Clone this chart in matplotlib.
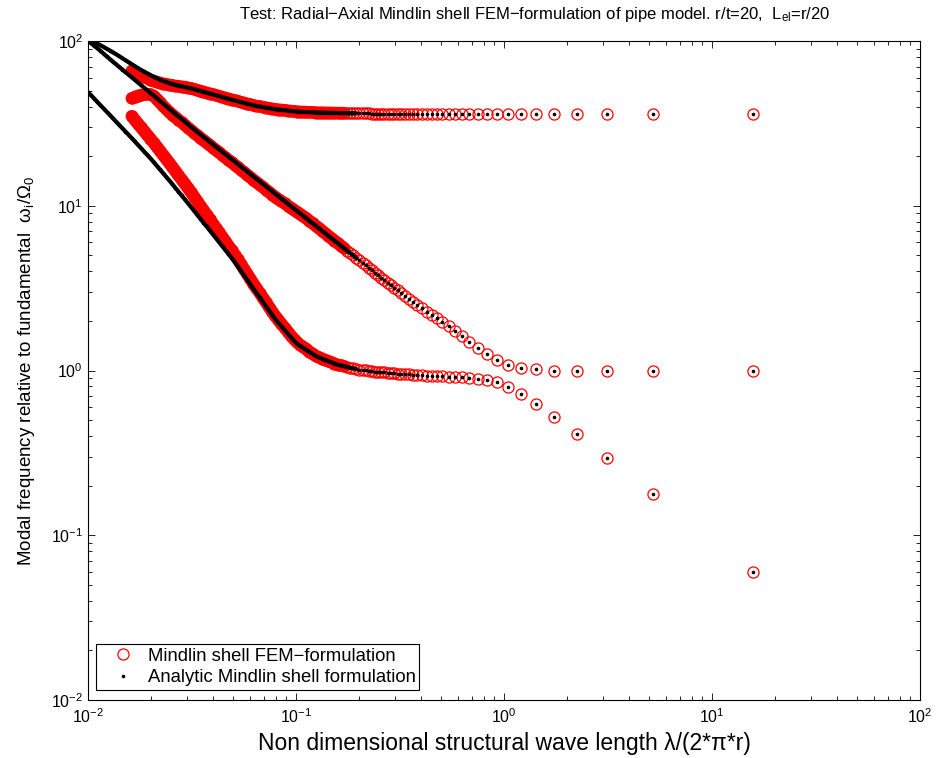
import numpy as np
import matplotlib
matplotlib.use("Agg")
import matplotlib.pyplot as plt

plt.rcParams['font.family'] = ['Liberation Sans', 'DejaVu Sans']
plt.rcParams['mathtext.fontset'] = 'custom'
plt.rcParams['mathtext.rm'] = 'Liberation Sans'
plt.rcParams['mathtext.it'] = 'Liberation Sans:italic'
plt.rcParams['mathtext.bf'] = 'Liberation Sans:bold'

# ---------------- data ----------------
# non-dimensional wave length lambda/(2*pi*r): dense short-wave part + discrete long-wave modes
x_dense = [0.01000, 0.01035, 0.01072, 0.01109, 0.01148, 0.01189, 0.01230, 0.01274, 0.01318, 0.01365,
           0.01413, 0.01462, 0.01514, 0.01567, 0.01622, 0.01679, 0.01738, 0.01799, 0.01862, 0.01928,
           0.01995, 0.02065, 0.02138, 0.02213, 0.02291, 0.02371, 0.02455, 0.02541, 0.02630, 0.02723,
           0.02818, 0.02917, 0.03020, 0.03126, 0.03236, 0.03350, 0.03467, 0.03589, 0.03715, 0.03846,
           0.03981, 0.04121, 0.04266, 0.04416, 0.04571, 0.04732, 0.04898, 0.05070, 0.05248, 0.05433,
           0.05623, 0.05821, 0.06026, 0.06237, 0.06457, 0.06683, 0.06918, 0.07161, 0.07413, 0.07674,
           0.07943, 0.08222, 0.08511, 0.08810, 0.09120, 0.09441, 0.09772, 0.1012, 0.1047, 0.1084,
           0.1122, 0.1161, 0.1202, 0.1245, 0.1288, 0.1334, 0.1380, 0.1429, 0.1479, 0.1531,
           0.1585, 0.1641, 0.1698, 0.1758, 0.1820, 0.1884, 0.1950, 0.2018, 0.2089, 0.2163,
           0.2239, 0.2317, 0.2399, 0.2483, 0.2570, 0.2661, 0.2754, 0.2851, 0.2951]
x_modes = [0.3076, 0.3202, 0.3338, 0.3487, 0.3649, 0.3827, 0.4023, 0.4241, 0.4483, 0.4755,
           0.5061, 0.5410, 0.5811, 0.6276, 0.6822, 0.7471, 0.8258, 0.9229, 1.046, 1.207,
           1.426, 1.743, 2.241, 3.138, 5.230, 15.69]

# analytic branch: bending -> ring (lower)
low_dense = [48.98, 46.77, 44.67, 42.67, 40.75, 38.92, 37.18, 35.51, 33.91, 32.39,
             30.94, 29.55, 28.22, 26.96, 25.73, 24.55, 23.43, 22.35, 21.33, 20.35,
             19.41, 18.45, 17.52, 16.65, 15.82, 15.03, 14.28, 13.56, 12.85, 12.18,
             11.55, 10.95, 10.38, 9.834, 9.316, 8.822, 8.353, 7.909, 7.489, 7.091,
             6.714, 6.356, 6.017, 5.695, 5.390, 5.102, 4.829, 4.560, 4.285, 4.027,
             3.784, 3.556, 3.342, 3.141, 2.953, 2.780, 2.616, 2.461, 2.316, 2.180,
             2.051, 1.950, 1.854, 1.763, 1.676, 1.594, 1.516, 1.452, 1.411, 1.372,
             1.334, 1.296, 1.260, 1.225, 1.200, 1.180, 1.160, 1.140, 1.121, 1.102,
             1.084, 1.073, 1.062, 1.052, 1.041, 1.031, 1.021, 1.012, 1.006, 1.001,
             0.9954, 0.9899, 0.9845, 0.9790, 0.9753, 0.9725, 0.9696, 0.9667, 0.9638]
low_modes = [0.958, 0.955, 0.951, 0.947, 0.943, 0.939, 0.935, 0.931, 0.927, 0.924,
             0.921, 0.918, 0.916, 0.912, 0.904, 0.892, 0.872, 0.848, 0.794, 0.720,
             0.626, 0.520, 0.410, 0.296, 0.178, 0.060]

# analytic branch: axial (diagonal) -> ring
mid_dense = [100.3, 96.86, 93.57, 90.39, 87.08, 83.78, 80.60, 77.61, 74.83, 72.17,
             69.60, 67.12, 64.73, 62.43, 60.20, 58.07, 55.99, 54.00, 52.08, 50.23,
             48.43, 46.69, 45.01, 43.40, 41.83, 40.33, 38.88, 37.48, 36.13, 34.83,
             33.58, 32.38, 31.22, 30.09, 29.05, 28.06, 27.11, 26.19, 25.30, 24.44,
             23.61, 22.81, 22.04, 21.29, 20.56, 19.87, 19.19, 18.54, 17.91, 17.30,
             16.72, 16.15, 15.60, 15.07, 14.56, 14.06, 13.59, 13.13, 12.68, 12.25,
             11.83, 11.43, 11.04, 10.67, 10.31, 9.957, 9.619, 9.292, 8.977, 8.672,
             8.378, 8.094, 7.818, 7.553, 7.297, 7.049, 6.810, 6.578, 6.355, 6.139,
             5.931, 5.730, 5.535, 5.347, 5.166, 4.990, 4.821, 4.657, 4.499, 4.346,
             4.199, 4.056, 3.919, 3.786, 3.657, 3.533, 3.413, 3.297, 3.185]
mid_modes = [3.06, 2.94, 2.83, 2.72, 2.61, 2.50, 2.39, 2.28, 2.18, 2.08,
             1.97, 1.86, 1.74, 1.62, 1.49, 1.36, 1.26, 1.16, 1.085, 1.035,
             1.015, 1.00, 0.99, 0.99, 0.99, 0.99]

# analytic branch: shear (top)
top_dense = [103.0, 100.8, 98.58, 96.43, 94.19, 91.94, 89.74, 87.54, 85.27, 83.07,
             80.91, 78.65, 76.45, 74.31, 72.30, 70.38, 68.51, 66.75, 65.16, 63.60,
             62.09, 60.78, 59.49, 58.23, 57.23, 56.36, 55.52, 54.78, 54.20, 53.65,
             53.09, 52.58, 52.07, 51.57, 50.99, 50.38, 49.77, 49.17, 48.59, 48.00,
             47.42, 46.85, 46.29, 45.74, 45.19, 44.64, 44.11, 43.59, 43.09, 42.61,
             42.12, 41.64, 41.17, 40.71, 40.35, 40.04, 39.73, 39.43, 39.13, 38.84,
             38.55, 38.36, 38.18, 38.00, 37.81, 37.63, 37.45, 37.31, 37.20, 37.12,
             37.05, 36.97, 36.89, 36.81, 36.78, 36.74, 36.70, 36.66, 36.63, 36.59,
             36.56, 36.54, 36.51, 36.49, 36.46, 36.44, 36.41, 36.39, 36.36, 36.34,
             36.31, 36.29, 36.26, 36.24, 36.21, 36.19, 36.16, 36.14, 36.12]
top_modes = [36.0, 36.0, 36.0, 36.0, 36.0, 36.0, 36.0, 36.0, 36.0, 36.0,
             36.0, 36.0, 36.0, 36.0, 36.0, 36.0, 36.0, 36.0, 36.0, 36.0,
             36.0, 36.0, 36.0, 36.0, 36.0, 36.0]

# FEM: first wave length available, and values where FEM departs from the analytic curves
fem_x_min = 0.0162
fem_low_head = [34.97, 33.17, 31.49, 29.86, 28.33, 26.88, 25.58, 24.19, 22.86, 21.61,
                20.42, 19.31, 18.25, 17.23, 16.24, 15.30, 14.43, 13.60, 12.81, 12.07,
                11.35, 10.66, 10.01, 9.41, 8.84, 8.30, 7.80, 7.33, 6.89, 6.48,
                6.09, 5.72, 5.38, 5.05, 4.72, 4.41, 4.12, 3.86, 3.61, 3.37,
                3.16, 2.96, 2.77, 2.60, 2.43, 2.28, 2.14, 2.03, 1.92, 1.82,
                1.72, 1.63, 1.55, 1.48, 1.43, 1.39, 1.35, 1.30, 1.265]
fem_mid_head = [44.9, 45.7, 46.5, 47.0, 47.4, 47.6, 47.4, 46.48, 44.39, 42.41,
                40.50, 38.78, 37.13, 35.79, 34.50, 33.26, 32.07, 30.92, 29.82, 28.74,
                27.74, 26.80, 25.89, 25.01, 24.16, 23.34, 22.55, 21.78, 21.05, 20.33,
                19.63, 18.98, 18.33, 17.71, 17.10, 16.52, 15.97, 15.42, 14.90, 14.39,
                13.90, 13.43, 12.98, 12.54, 12.11, 11.70, 11.30, 10.97, 10.64, 10.33,
                10.03, 9.730, 9.443, 9.165, 8.894, 8.632]
fem_top_head = [65.94, 64.63, 63.21, 61.86, 60.67, 59.36, 58.08, 57.25, 56.55, 55.74,
                55.16, 54.70, 54.25, 53.78, 53.46, 53.16, 52.85]

# ---------------- assemble ----------------
x_all = np.array(x_dense + x_modes)
ana = [np.array(low_dense + low_modes),
       np.array(mid_dense + mid_modes),
       np.array(top_dense + top_modes)]
i0 = int(np.searchsorted(x_all, fem_x_min - 1e-9))
x_fem = x_all[i0:]
fem = []
for head, a in zip([fem_low_head, fem_mid_head, fem_top_head], ana):
    tail = a[i0 + len(head):]
    fem.append(np.concatenate([np.array(head), tail]))

# where the markers are so dense that they merge into a continuous band
red_merge_max = 0.17
black_merge_max = 0.20

# ---------------- plot ----------------
fig = plt.figure(figsize=(9.36, 7.58), dpi=100)
ax = fig.add_axes([88/936, 1 - 700/758, 832/936, 659/758])

ring_ms, ring_mew = 8.0, 0.9
dot_ms = 2.6
for k, y in enumerate(fem):
    m = x_fem <= red_merge_max
    ax.plot(x_fem[m], y[m], '-', color='red', lw=ring_ms + ring_mew,
            solid_capstyle='round', solid_joinstyle='round', zorder=2)
    ax.plot(x_fem, y, 'o', mfc='none', mec='red', ms=ring_ms, mew=ring_mew, ls='none',
            label='Mindlin shell FEM\u2212formulation' if k == 0 else None, zorder=2)
for k, y in enumerate(ana):
    m = x_all <= black_merge_max
    ax.plot(x_all[m], y[m], '-', color='black', lw=3.0,
            solid_capstyle='round', solid_joinstyle='round', zorder=3)
    ax.plot(x_all, y, 'o', color='black', ms=dot_ms, mew=0, ls='none',
            label='Analytic Mindlin shell formulation' if k == 0 else None, zorder=3)

ax.set_xscale('log')
ax.set_yscale('log')
ax.set_xlim(1e-2, 1e2)
ax.set_ylim(1e-2, 1e2)

ax.tick_params(which='both', direction='in', top=True, right=True, labelsize=11.5, colors='black')
ax.tick_params(which='major', length=5, width=0.6)
ax.tick_params(which='minor', length=3, width=0.6)
ax.tick_params(axis='x', which='major', pad=5.5)
for s in ax.spines.values():
    s.set_linewidth(0.8)

ax.set_xlabel('Non dimensional structural wave length \u03bb/(2*\u03c0*r)', fontsize=16.5, labelpad=4)
ax.set_ylabel('Modal frequency relative to fundamental  \u03c9$_{\\mathrm{i}}$/\u03a9$_{\\mathrm{0}}$',
              fontsize=13.5, labelpad=10)
ax.set_title('Test: Radial\u2212Axial Mindlin shell FEM\u2212formulation of pipe model. r/t=20,  L$_{\\mathrm{el}}$=r/20',
             fontsize=12, pad=16, x=0.537)

leg = ax.legend(loc='lower left', bbox_to_anchor=(8/832, 10/659), borderaxespad=0,
                fancybox=False, framealpha=1, edgecolor='black', fontsize=13.3,
                handlelength=2.5, handletextpad=0.1, labelspacing=0.25, borderpad=0.2)
leg.get_frame().set_linewidth(0.8)

fig.savefig('out.png', dpi=100)
